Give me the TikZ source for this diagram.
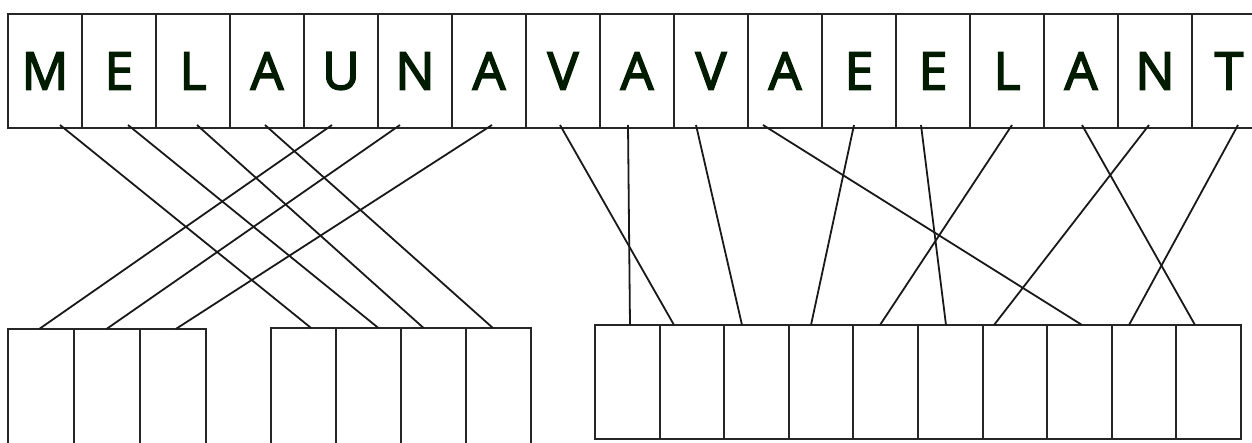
\documentclass[tikz,border=0pt]{standalone}
\usepackage{fontspec}
\setmainfont{Open Sans}
\newfontfamily\letterfont{Open Sans}[FakeBold=3]
\begin{document}
\begin{tikzpicture}[x=1pt,y=-1pt,
  cellline/.style={line width=1.5pt,draw=black!85},
  topcell/.style={cellline,rectangle,minimum width=74pt,minimum height=114pt,inner sep=0pt,outer sep=0pt,
     font=\letterfont\fontsize{52}{60}\selectfont,text=black!85!green!70!black},
  botcellA/.style={cellline,rectangle,minimum width=66pt,minimum height=117pt,inner sep=0pt,outer sep=0pt},
  botcellB/.style={cellline,rectangle,minimum width=65pt,minimum height=118pt,inner sep=0pt,outer sep=0pt},
  botcellC/.style={cellline,rectangle,minimum width=65pt,minimum height=114pt,inner sep=0pt,outer sep=0pt},
  link/.style={line width=1.8pt,draw=black!90}]
\useasboundingbox (0,0) rectangle (1252,443);
\fill[white] (0,0) rectangle (1252,443);
% top row of letters
\foreach \L [count=\i] in {M,E,L,A,U,N,A,V,A,V,A,E,E,L,A,N,T}{
  \node[topcell] (t\i) at ({8+74*(\i-0.5)},71) {\L};
}
% bottom group 1 (3 cells)
\foreach \i in {1,2,3}{
  \node[botcellA] (b\i) at ({8+66*(\i-0.5)},{329+58.5}) {};
}
% bottom group 2 (4 cells)
\foreach \i [evaluate=\i as \k using int(\i+3)] in {1,2,3,4}{
  \node[botcellB] (b\k) at ({271+65*(\i-0.5)},{328+59}) {};
}
% bottom group 3 (10 cells)
\foreach \i [evaluate=\i as \k using int(\i+7)] in {1,...,10}{
  \node[botcellC] (b\k) at ({595+64.6*(\i-0.5)},{325+57}) {};
}
% connectors: top node / shift -> bottom node / shift
\foreach \a/\sa/\b/\sb in {5/-9/1/-1.8, 6/-15/2/-0.5, 7/3/3/2.8,
  1/15/4/7.6, 2/9/5/9.9, 3/4/6/-9.9, 4/-2/7/-5.6,
  9/-9/8/2.7, 8/-3/9/-17.9, 10/-15/10/-14.5, 12/-5/11/-10.1,
  14/5/12/-5.7, 13/-12/13/-4.3, 16/-6/14/-20.9, 11/-22/15/2.5,
  17/9/16/-15.1, 15/1/17/-13.7}{
  \draw[link] ([xshift=\sa pt,yshift=3pt]t\a.south) -- ([xshift=\sb pt]b\b.north);
}
\end{tikzpicture}
\end{document}
